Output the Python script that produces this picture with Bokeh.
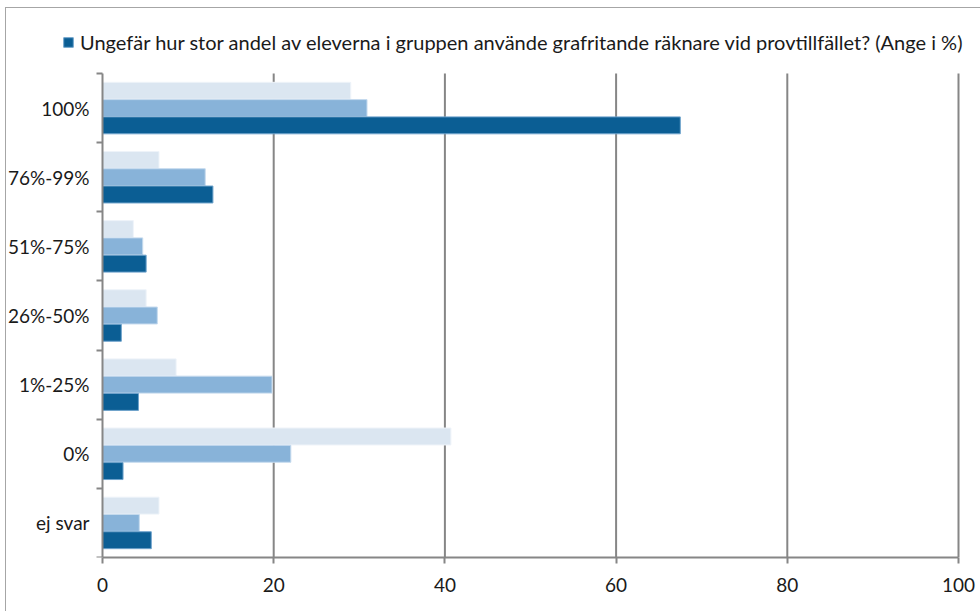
from bokeh.plotting import figure
from bokeh.models import (ColumnDataSource, Range1d, FixedTicker, Legend, LegendItem)
from bokeh.transform import dodge
from bokeh.embed import file_html
from bokeh.resources import INLINE

categories = ["100%", "76%-99%", "51%-75%", "26%-50%", "1%-25%", "0%", "ej svar"]
share_main = [67.5, 12.9, 5.1, 2.2, 4.2, 2.4, 5.7]    # dark series (in legend)
share_mid = [30.9, 12.0, 4.7, 6.4, 19.8, 22.0, 4.3]
share_light = [29.0, 6.6, 3.6, 5.1, 8.6, 40.7, 6.6]
x_ticks = [0, 20, 40, 60, 80, 100]
legend_label = "Ungefär hur stor andel av eleverna i gruppen använde grafritande räknare vid provtillfället? (Ange i %)"

n = len(categories)
ypos = [i + 0.5 for i in range(n)]
src = ColumnDataSource(dict(y=ypos, main=share_main, mid=share_mid, light=share_light))

FONT = "Lato"
GRAY = "#868686"

# layout (pixels): plot area spans x 102..958, y 73..557 inside a 980x611 canvas
W, H = 980, 611
X0, X1, Y0, Y1 = 102, 958, 73, 557
BOTTOM = H - Y1
xmax = x_ticks[-1]
ppx = (X1 - X0) / xmax
ppy = (Y1 - Y0) / n
x_range = Range1d(-X0 / ppx, xmax + (W - X1) / ppx)
y_range = Range1d(n, -Y0 / ppy)

p = figure(width=W, height=H, output_backend="svg", toolbar_location=None,
           x_range=x_range, y_range=y_range,
           min_border_left=0, min_border_right=0, min_border_top=0, min_border_bottom=BOTTOM)
p.styles = {"background": "linear-gradient(#a6a6a6,#a6a6a6) 5px 7px / 1px 100% no-repeat, "
                          "linear-gradient(#a6a6a6,#a6a6a6) 5px 7px / 100% 1px no-repeat, white"}
p.outline_line_color = None
p.background_fill_color = None
p.border_fill_color = None
p.xgrid.grid_line_color = None
p.ygrid.grid_line_color = None

# vertical gridlines spanning only the category area
p.segment(x0=x_ticks[1:], y0=0, x1=x_ticks[1:], y1=n, line_color=GRAY, line_width=2, level="underlay")

bh = 0.245
r_light = p.hbar(y=dodge("y", -0.25, range=p.y_range), right="light", left=0, height=bh, source=src,
                 fill_color="#dbe6f1", line_color="#eef3f9", line_width=1)
r_mid = p.hbar(y=dodge("y", 0.0, range=p.y_range), right="mid", left=0, height=bh, source=src,
               fill_color="#88b3d9", line_color="#c5daee", line_width=1)
r_main = p.hbar(y=dodge("y", 0.25, range=p.y_range), right="main", left=0, height=bh, source=src,
                fill_color="#0b5e94", line_color="#6fa3cc", line_width=1)

# x axis
p.xaxis.ticker = FixedTicker(ticks=x_ticks)
p.xaxis.bounds = (x_ticks[0], x_ticks[-1])
p.xaxis.axis_line_color = GRAY
p.xaxis.axis_line_width = 2
p.xaxis.major_tick_line_color = GRAY
p.xaxis.major_tick_line_width = 2
p.xaxis.major_tick_out = 6
p.xaxis.major_tick_in = 0
p.xaxis.minor_tick_line_color = None
p.xaxis.major_label_text_font = FONT
p.xaxis.major_label_text_font_size = "19px"
p.xaxis.major_label_text_color = "#1a1a1a"
p.xaxis.major_label_standoff = 14

# y axis at x=0 (labels at centers, ticks at boundaries)
p.yaxis.fixed_location = 0
p.yaxis.bounds = (0, n)
p.yaxis.ticker = FixedTicker(ticks=ypos, minor_ticks=list(range(n + 1)))
p.yaxis.major_label_overrides = {y: c for y, c in zip(ypos, categories)}
p.yaxis.axis_line_color = GRAY
p.yaxis.axis_line_width = 2
p.yaxis.major_tick_line_color = None
p.yaxis.major_tick_out = 6
p.yaxis.minor_tick_line_color = GRAY
p.yaxis.minor_tick_line_width = 2
p.yaxis.minor_tick_out = 6
p.yaxis.minor_tick_in = 0
p.yaxis.major_label_text_font = FONT
p.yaxis.major_label_text_font_size = "19px"
p.yaxis.major_label_text_color = "#1a1a1a"
p.yaxis.major_label_standoff = 7

legend = Legend(items=[LegendItem(label=legend_label, renderers=[r_main])],
                location=(62, Y1 - 54), orientation="horizontal",
                glyph_width=12, glyph_height=12, label_standoff=6, padding=0, margin=0,
                label_text_font=FONT, label_text_font_size="20px", label_text_color="#1a1a1a",
                label_height=20, border_line_color=None, background_fill_alpha=0)
p.add_layout(legend)

open("out.html", "w").write(file_html(p, INLINE))
